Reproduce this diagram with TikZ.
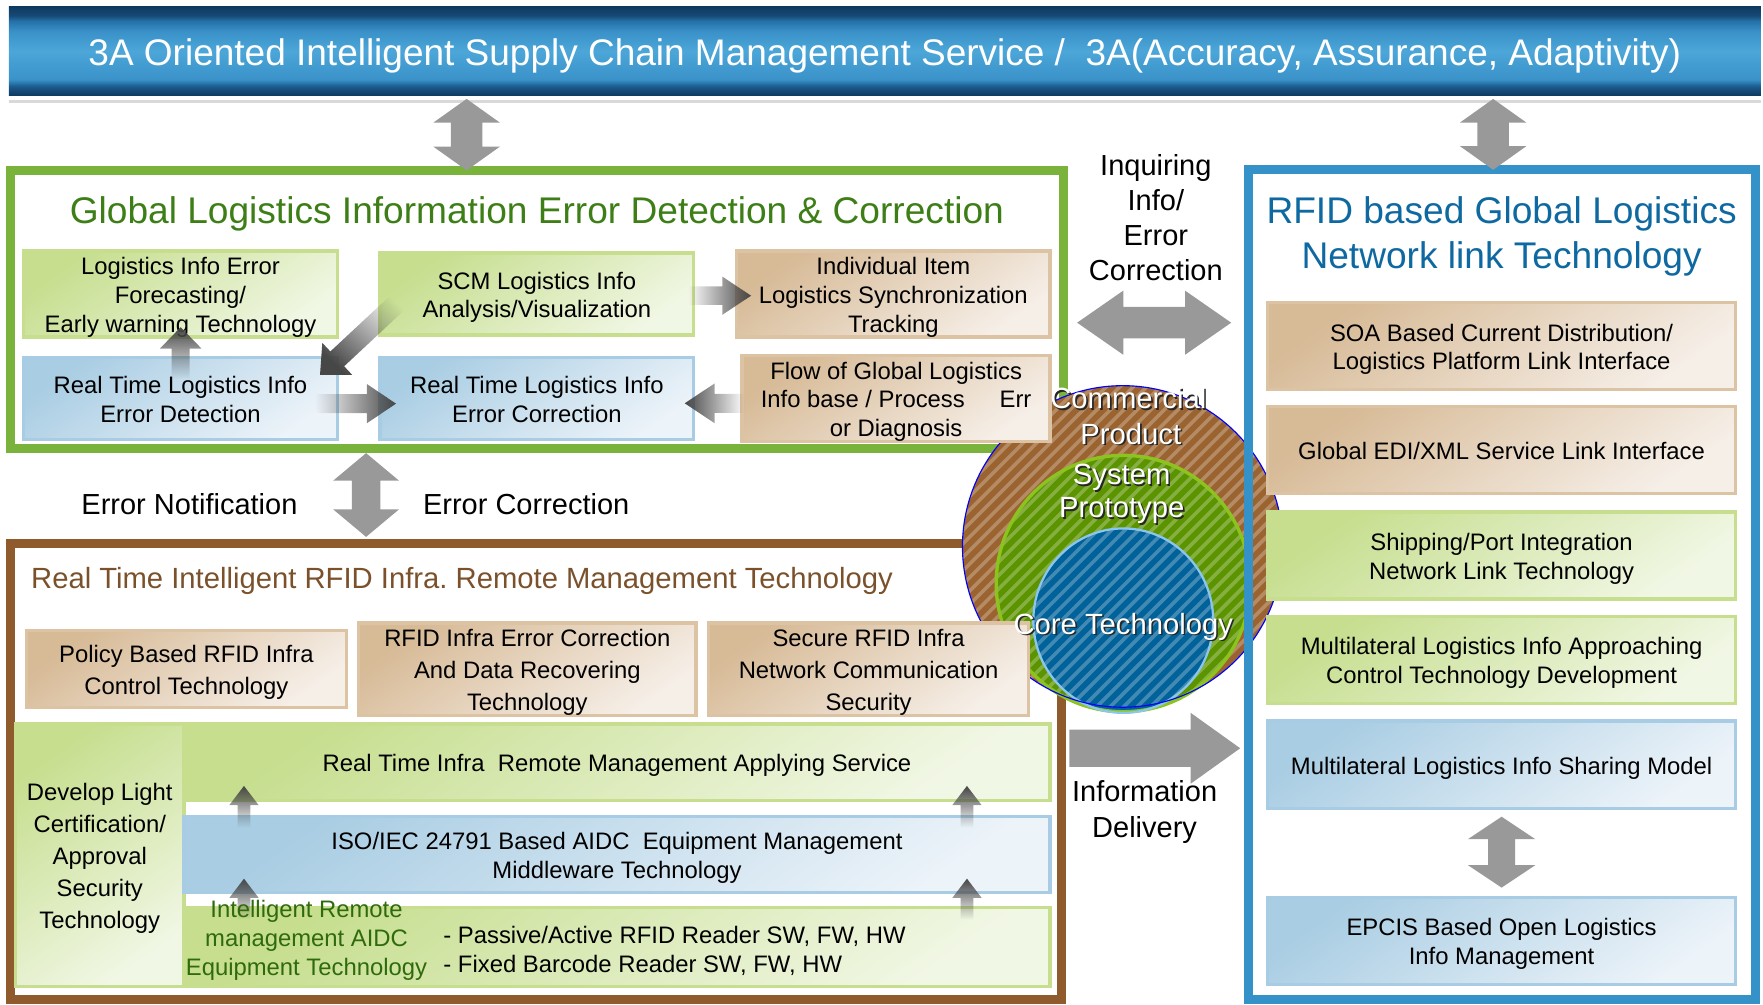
\documentclass[tikz,border=0pt]{standalone}
\usepackage{fontspec}
\setmainfont{Liberation Sans}
\usetikzlibrary{calc,fadings}
\frenchspacing
\definecolor{bnA}{HTML}{0E3A60}
\definecolor{bnB}{HTML}{164A76}
\definecolor{bnC}{HTML}{2471A8}
\definecolor{bnD}{HTML}{3A92C9}
\definecolor{bnE}{HTML}{4CA6D8}
\definecolor{bnF}{HTML}{1D5E92}
\definecolor{gframec}{HTML}{79B33B}
\definecolor{bframec}{HTML}{8F5B2D}
\definecolor{rframec}{HTML}{3592C8}
\definecolor{gtitlec}{HTML}{3D7E17}
\definecolor{btitlec}{HTML}{7B512C}
\definecolor{rtitlec}{HTML}{0F69A1}
\definecolor{gdark}{HTML}{C6DE8E}
\definecolor{glight}{HTML}{F1F7E5}
\definecolor{gbord}{HTML}{C6DE8D}
\definecolor{tdark}{HTML}{D7BA96}
\definecolor{tlight}{HTML}{F6EFE8}
\definecolor{tbord}{HTML}{DCC3A3}
\definecolor{ldark}{HTML}{A9CDE3}
\definecolor{llight}{HTML}{ECF3F9}
\definecolor{lbord}{HTML}{A8CCE3}
\definecolor{arrowgray}{HTML}{999999}
\definecolor{cbrown}{HTML}{9A6330}
\definecolor{cgreen}{HTML}{5C9400}
\definecolor{cgreenb}{HTML}{8CC31E}
\definecolor{cblue}{HTML}{00629A}
\definecolor{cblueb}{HTML}{8CC6EE}
\definecolor{itext}{HTML}{2F6B0C}
\pgfdeclareverticalshading{bannershade}{100bp}{color(0bp)=(bnA); color(25bp)=(bnA); color(28bp)=(bnB); color(30.5bp)=(bnF); color(34bp)=(bnD); color(50bp)=(bnE); color(61bp)=(bnD); color(67bp)=(bnC); color(70bp)=(bnB); color(75bp)=(bnA); color(100bp)=(bnA)}
\newcommand\bnfont{\fontsize{16.45pt}{19.7pt}\selectfont}
\newcommand\ttlfont{\fontsize{16.5pt}{20pt}\selectfont}
\newcommand\brfont{\fontsize{13pt}{15.6pt}\selectfont}
\newcommand\midfnt{\fontsize{12.9pt}{15.5pt}\selectfont}
\newcommand\bxfont{\fontsize{10.6pt}{12.75pt}\selectfont}
\newcommand\bxwfont{\fontsize{10.6pt}{14.2pt}\selectfont}
\newcommand\crfont{\fontsize{13pt}{15.6pt}\selectfont}
\newcommand\fstrut{\rule[-0.212em]{0pt}{1.212em}}
% single block arrow: options, from, to, shaft half, head half, head length
\newcommand\blockarrow[6]{%
  \coordinate (bah) at ($(#3)!#6!(#2)$);
  \path[#1] ($(#2)!#4!90:(#3)$) -- ($(bah)!#4!90:(#3)$) -- ($(bah)!#5!90:(#3)$) -- (#3)
    -- ($(bah)!#5!-90:(#3)$) -- ($(bah)!#4!-90:(#3)$) -- ($(#2)!#4!-90:(#3)$) -- cycle;}
% double block arrow
\newcommand\dblarrow[6]{%
  \coordinate (bah) at ($(#3)!#6!(#2)$);
  \coordinate (bat) at ($(#2)!#6!(#3)$);
  \path[#1] (#2) -- ($(bat)!#5!90:(#3)$) -- ($(bat)!#4!90:(#3)$) -- ($(bah)!#4!90:(#3)$)
    -- ($(bah)!#5!90:(#3)$) -- (#3) -- ($(bah)!#5!-90:(#3)$) -- ($(bah)!#4!-90:(#3)$)
    -- ($(bat)!#4!-90:(#3)$) -- ($(bat)!#5!-90:(#3)$) -- cycle;}
\tikzset{
  ts/.style={execute at begin node=\fstrut, execute at end node=\fstrut},
  frame/.style={line width=4pt, inner sep=0pt, outer sep=0pt},
  bx/.style={line width=1.5pt, inner sep=0pt, align=center, font=\bxfont, shading angle=35, ts},
  gb/.style={draw=gbord, top color=gdark, bottom color=glight, bx},
  tb/.style={draw=tbord, top color=tdark, bottom color=tlight, bx},
  lb/.style={draw=lbord, top color=ldark, bottom color=llight, bx},
  szg/.style={minimum width=139.5pt, minimum height=36.5pt},
  szr/.style={minimum width=208pt, minimum height=38.75pt},
  szb/.style={minimum width=385.25pt},
  grad/.style={fill=black!72},
  bigarrow/.style={fill=arrowgray},
  ctext/.style={text=white, font=\crfont, inner sep=0pt, ts},
  cshadow/.style={text=black!85, font=\crfont, inner sep=0pt, ts},
  plain/.style={inner sep=0pt, align=center, ts}
}
\begin{document}
\begin{tikzpicture}[x=0.5pt,y=-0.5pt]
\useasboundingbox (0,0) rectangle (1568,893);
% banner
\node[shade, shading=bannershade, minimum width=779pt, minimum height=39.5pt, inner sep=0pt, text=white, font=\bnfont, ts] (banner) at (787,45.5) {3A Oriented Intelligent Supply Chain Management Service /~ 3A(Accuracy, Assurance, Adaptivity)};
\path[draw=black!15, line width=1.3pt] (8,90) -- (1566,90);
% frames (behind the circle)
\node[frame, draw=gframec, minimum width=468.5pt, minimum height=123.5pt] (gframe) at (477.5,275) {};
\node[frame, draw=bframec, minimum width=467.5pt, minimum height=202.5pt] (bframe) at (476.5,686) {};
% circles
\fill[cbrown] (998.5,486) ellipse [x radius=71.25pt, y radius=71.5pt];
\fill[cgreen] (999,519) ellipse [x radius=56.5pt, y radius=57pt];
\fill[cblue] (999,552) ellipse [x radius=40pt, y radius=41pt];
\begin{scope}
  \clip (998.5,486) ellipse [x radius=71.25pt, y radius=71.5pt];
  \foreach \k in {1280,1292,...,1700} \draw[white, opacity=0.26, line width=1.6pt] (\k-640,640) -- (\k-336,336);
\end{scope}
\draw[cgreenb, line width=1.5pt] (999,519) ellipse [x radius=56.5pt, y radius=57pt];
\draw[cblueb, line width=1pt] (999,552) ellipse [x radius=40pt, y radius=41pt];
\draw[blue, line width=0.5pt] (998.5,486) ellipse [x radius=71.25pt, y radius=71.5pt];
% right frame (above the circle)
\node[frame, draw=rframec, minimum width=225.75pt, minimum height=368.75pt] (rframe) at (1335.75,519.75) {};
% titles
\node[text=gtitlec, font=\ttlfont, inner sep=0pt, ts] (gtitle) at (477.5,186) {Global Logistics Information Error Detection \& Correction};
\node[text=rtitlec, font=\ttlfont, inner sep=0pt, align=center, ts] (rtitle) at (1335.5,206) {\fstrut RFID based Global Logistics\\Network link Technology};
\node[text=btitlec, font=\brfont, anchor=west, inner sep=0pt, ts] (btitle) at (27.3,513) {Real Time Intelligent RFID Infra. Remote Management Technology};
% green frame boxes
\node[gb, szg] (A) at (160.5,261.5) {\fstrut Logistics Info Error\\Forecasting/\\Early warning Technology};
\node[gb, szg] (B) at (477.5,261.5) {\fstrut SCM Logistics Info\\Analysis/Visualization};
\node[tb, szg] (C) at (794.5,261.5) {\fstrut Individual Item\\Logistics Synchronization\\Tracking};
\node[lb, szg] (D) at (160.5,354.5) {\fstrut Real Time Logistics Info\\Error Detection};
\node[lb, szg] (E) at (477.5,354.5) {\fstrut Real Time Logistics Info\\Error Correction};
\node[tb, szg, minimum width=137pt] (F) at (797,354.5) {\fstrut Flow of Global Logistics\\Info base / Process\hspace{15.5pt}Err\\or Diagnosis};
% brown frame boxes
\node[tb, font=\bxwfont, minimum width=142.25pt, minimum height=34.25pt] (P1) at (165.75,595.25) {\fstrut Policy Based RFID Infra\\Control Technology};
\node[tb, font=\bxwfont, minimum width=150pt, minimum height=34.25pt] (P2) at (469,595.25) {\fstrut RFID Infra Error Correction\\And Data Recovering\\Technology};
\node[tb, font=\bxwfont, minimum width=142.5pt, minimum height=34.25pt] (P3) at (772.5,595.25) {\fstrut Secure RFID Infra\\Network Communication\\Security};
\node[gb, font=\bxwfont, minimum width=74.75pt, minimum height=116.75pt] (DL) at (88.75,760.75) {\fstrut Develop Light\\Certification/\\Approval\\Security\\Technology};
\node[gb, szb, minimum height=34pt] (AS) at (548.75,678) {Real Time Infra~ Remote Management Applying Service};
\node[lb, szb, minimum height=34pt] (ISO) at (548.75,760) {\fstrut ISO/IEC 24791 Based AIDC~ Equipment Management\\Middleware Technology};
\node[gb, szb, minimum height=35.25pt] (BT) at (548.75,842.25) {};
% right frame boxes
\node[tb, szr] (R1) at (1335.5,307.75) {\fstrut SOA Based Current Distribution/\\Logistics Platform Link Interface};
\node[tb, szr] (R2) at (1335.5,400.25) {Global EDI/XML Service Link Interface};
\node[gb, szr] (R3) at (1335.5,494) {\fstrut Shipping/Port Integration\\Network Link Technology};
\node[gb, szr] (R4) at (1335.5,586.8) {\fstrut Multilateral Logistics Info Approaching\\Control Technology Development};
\node[lb, szr] (R5) at (1335.5,680.1) {Multilateral Logistics Info Sharing Model};
\node[lb, szr] (R6) at (1335.5,836.7) {\fstrut EPCIS Based Open Logistics\\Info Management};
% big grey arrows
\coordinate (t1) at (415,88);
\coordinate (t1b) at (t1 |- gframe.north);
\dblarrow{bigarrow}{t1}{t1b}{7pt}{14.75pt}{10.5pt}
\coordinate (t2) at (1328,88);
\coordinate (t2b) at (t2 |- rframe.north);
\dblarrow{bigarrow}{t2}{t2b}{7pt}{14.75pt}{10.5pt}
\coordinate (h1) at (958,287);
\coordinate (h2) at (1095,287);
\dblarrow{bigarrow}{h1}{h2}{7pt}{14.25pt}{20.5pt}
\coordinate (v1) at (325.6,403);
\coordinate (v2) at (325.6,477.5);
\dblarrow{bigarrow}{v1}{v2}{6.3pt}{14.65pt}{12.25pt}
\coordinate (i1) at (951,665.5);
\coordinate (i2) at (1103,665.5);
\blockarrow{bigarrow}{i1}{i2}{8.25pt}{15.75pt}{22pt}
\coordinate (r1) at ($(R5.south)+(0,6)$);
\coordinate (r2) at ($(R6.north)+(0,-7)$);
\dblarrow{bigarrow}{r1}{r2}{6pt}{15pt}{10pt}
% gradient arrows in the green frame
\coordinate (da1) at (160.7,337);
\coordinate (da2) at (160.7,291);
\blockarrow{grad, path fading=south}{da1}{da2}{4pt}{9.25pt}{9.5pt}
\coordinate (bd1) at (358,265);
\coordinate (bd2) at (284.6,333.5);
\blockarrow{grad, path fading=north, fading angle=-45}{bd1}{bd2}{4.5pt}{9.75pt}{10.5pt}
\coordinate (de1) at (280,359);
\coordinate (de2) at (352.2,359);
\blockarrow{grad, path fading=west}{de1}{de2}{4.25pt}{8.75pt}{13pt}
\coordinate (fe1) at (662,358.7);
\coordinate (fe2) at (609,358.7);
\blockarrow{grad, path fading=east}{fe1}{fe2}{4.25pt}{8.85pt}{13.3pt}
\coordinate (bc1) at (612,263);
\coordinate (bc2) at (668,263);
\blockarrow{grad, path fading=west}{bc1}{bc2}{4.1pt}{8.5pt}{12.8pt}
% gradient arrows in the brown frame
\coordinate (ua1) at (217,736);
\coordinate (ua1h) at (217,699);
\blockarrow{grad, path fading=south}{ua1}{ua1h}{2.8pt}{6.5pt}{8.5pt}
\coordinate (ua2) at (217,818);
\coordinate (ua2h) at (217,781.5);
\blockarrow{grad, path fading=south}{ua2}{ua2h}{2.8pt}{6.5pt}{8.5pt}
\coordinate (ua3) at (860,736);
\coordinate (ua3h) at (860,699);
\blockarrow{grad, path fading=south}{ua3}{ua3h}{2.8pt}{6.5pt}{8.5pt}
\coordinate (ua4) at (860,818);
\coordinate (ua4h) at (860,781.5);
\blockarrow{grad, path fading=south}{ua4}{ua4h}{2.8pt}{6.5pt}{8.5pt}
% texts in the bottom box
\node[plain, text=itext, font=\fontsize{10.6pt}{13pt}\selectfont] (bt1) at (272.6,833.5) {\fstrut Intelligent Remote\\management AIDC\\Equipment Technology};
\node[inner sep=0pt, align=left, anchor=west, font=\fontsize{10.6pt}{12.9pt}\selectfont, ts] (bt2) at (394,843.5) {\fstrut - Passive/Active RFID Reader SW, FW, HW\\- Fixed Barcode Reader SW, FW, HW};
% circle texts
\node[cshadow] (c1s) at (1005,355) {Commercial};
\node[ctext] (c1) at (1003.5,353.5) {Commercial};
\node[cshadow] (c2s) at (1007.2,386.4) {Product};
\node[ctext] (c2) at (1005.7,384.9) {Product};
\node[cshadow] (c3s) at (999.1,422) {System};
\node[ctext] (c3) at (997.6,420.5) {System};
\node[cshadow] (c4s) at (999.2,451.6) {Prototype};
\node[ctext] (c4) at (997.7,450.1) {Prototype};
\node[cshadow] (c5s) at (1000.5,555.4) {Core Technology};
\node[ctext] (c5) at (999,553.9) {Core Technology};
% free labels
\node[plain, font=\midfnt] (inq) at (1028,192.5) {\fstrut Inquiring\\Info/\\Error\\Correction};
\node[plain, font=\midfnt] (enot) at (168.5,447) {Error Notification};
\node[plain, font=\midfnt] (ecor) at (468,447) {Error Correction};
\node[plain, font=\fontsize{12.9pt}{16pt}\selectfont] (idel) at (1018,719) {\fstrut Information\\Delivery};
\end{tikzpicture}
\end{document}
